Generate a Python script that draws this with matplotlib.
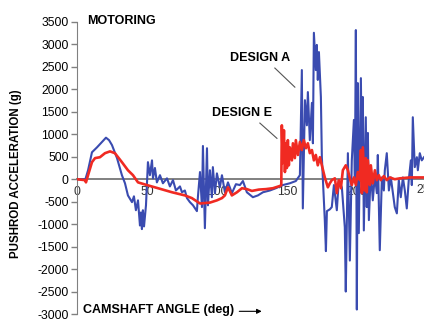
import matplotlib
matplotlib.use("Agg")
import matplotlib.pyplot as plt

plt.rcParams['font.family'] = ['Liberation Sans', 'DejaVu Sans']

# Design A (blue) - camshaft angle (deg) vs pushrod acceleration (g)
angle_a = [0, 6, 7.9, 10.7, 14.3, 17.9, 20.7, 22.9, 25.0, 28.6, 32.1, 34.3, 36.4, 39.3,
           40.7, 42.1, 43.6, 45.0, 45.7, 46.4, 47.1, 47.9, 49.3, 50.7, 52.1, 53.6, 54.3,
           55.7, 57.1, 59.3, 61.4, 64.3, 66.4, 68.6, 70.7, 73.6, 75.0, 77.1, 78.6, 80.7,
           82.9, 85.7, 86.4, 87.9, 89.3, 90.0, 91.4, 92.9, 93.6, 95.0, 96.4, 97.1, 98.6,
           100.0, 102.1, 103.6, 105.7, 107.9, 110.7, 113.6, 116.4, 118.6, 121.4, 125.7,
           129.3, 132.9, 137.9, 142.1, 147.1, 152.1, 156.4, 159.3, 160.7, 161.4, 162.9,
           164.3, 165.0, 166.4, 167.9, 168.6, 169.3, 170.7, 171.4, 172.1, 172.9, 173.6,
           174.3, 175.0, 175.7, 177.1, 177.9, 178.6, 180.7, 182.1, 183.6, 185.7, 187.1,
           189.3, 191.4, 192.1, 193.6, 195.0, 196.4, 197.9, 198.6, 199.3, 200.0, 200.7,
           201.4, 202.9, 203.6, 204.3, 205.0, 206.4, 207.1, 207.9, 208.6, 210.0, 211.4,
           212.9, 214.3, 215.0, 216.4, 217.9, 219.3, 220.0, 221.4, 222.9, 224.3, 225.7,
           227.1, 228.6, 230.0, 231.4, 232.9, 234.3, 235.7, 237.1, 238.6, 239.3, 240.0,
           241.4, 242.9, 243.6, 245.0, 246.4, 248.0]
accel_a = [0, 0, 200, 600, 710, 830, 925, 870, 760, 470, 90, -90, -360, -510,
           -380, -690, -470, -1030, -740, -1110, -690, -1050, -580, 380, 90, 420, 20,
           250, -70, 90, -90, 20, -160, -20, -250, -160, -290, -250, -420, -510,
           -580, -710, -400, 160, -620, 740, -1090, 690, -580, 200, -400, 270, -310,
           130, -180, 90, -290, -70, -310, -110, -130, -40, -290, -400,
           -360, -290, -250, -200, -130, -90, -40, 90, 2430, -650, 1760,
           1200, 1940, 870, 1700, 800, 3260, 2430, 2990, 2210, 2830, 2320,
           1830, 490, 40, -910, -1600, -710, -670, -620, -130, -690, -20,
           -180, -1070, -2500, 580, -1810, 420, 1320, -20, 3320, -2900, 2140,
           -1200, 2250, -20, 1830, -1140, 1380, -620, 1030, -910, 200, -470,
           90, -310, 540, -1580, 40, -250, 200, 580, -250, 40, -290,
           -620, -760, -20, -400, 40, -250, -650, -20, 420, -130, 1380,
           270, 490, 200, 580, 420, 490]

# Design E (red)
angle_e = [0, 5.7, 6.4, 7.9, 10.7, 12.9, 16.4, 20.0, 23.6, 27.1, 32.1, 36.4, 40.0, 43.6,
           50.0, 57.9, 67.9, 77.1, 82.1, 87.9, 95.0, 100.0, 103.6, 105.7, 107.9, 110.7,
           114.3, 117.9, 121.4, 125.0, 130.0, 135.0, 140.0, 145.0, 146.0, 146.4, 147.1,
           147.9, 148.6, 149.3, 150.0, 150.7, 151.4, 152.1, 153.6, 154.3, 155.7, 156.4,
           157.9, 159.3, 160.7, 162.1, 163.6, 165.0, 166.4, 167.9, 169.3, 170.7, 172.1,
           173.6, 175.0, 177.1, 179.3, 180.7, 182.1, 184.3, 185.7, 187.1, 188.6, 190.0,
           192.1, 193.6, 195.0, 196.4, 197.9, 199.3, 200.7, 202.1, 202.9, 203.6, 204.3,
           205.7, 206.4, 207.1, 207.9, 209.3, 210.0, 211.4, 212.9, 214.3, 215.7, 217.1,
           219.3, 221.4, 223.6, 227.1, 230.7, 237.9, 248.0]
accel_e = [0, -20, -70, 90, 380, 470, 490, 580, 620, 580, 380, 200, 90, -70,
           -130, -200, -290, -360, -420, -540, -520, -470, -420, -360, -180, -360,
           -290, -200, -220, -260, -230, -220, -200, -150, -130, 1200, 360,
           1090, 160, 800, 250, 870, 310, 710, 420, 800, 470, 870,
           540, 830, 650, 870, 690, 800, 580, 650, 420, 540, 310,
           490, 310, 40, -180, -90, -20, 20, -310, -20, -200, 200,
           310, 200, 20, -130, 40, -130, 160, -20, 650, -310, 710,
           -250, 470, -290, 420, -130, 310, -90, 200, -20, 90, -20,
           70, -20, 40, 0, 20, 40, 40]

y_ticks = [3500, 3000, 2500, 2000, 1500, 1000, 500, 0, -500, -1000, -1500,
           -2000, -2500, -3000]
x_ticks = [0, 50, 100, 150, 200]

fig = plt.figure(figsize=(4.24, 3.22), dpi=100)
ax = fig.add_axes([0.1816, 0.0248, 0.8184, 0.9069])

ax.plot(angle_a, accel_a, color='#3a4bb0', lw=1.5, zorder=3)
ax.plot(angle_e, accel_e, color='#f02a22', lw=1.9, zorder=4)

ax.set_xlim(0, 248)
ax.set_ylim(-3000, 3500)

# spines: y axis at left, x axis through zero
ax.spines['top'].set_visible(False)
ax.spines['right'].set_visible(False)
ax.spines['left'].set_color('#808080')
ax.spines['bottom'].set_position(('data', 0))
ax.spines['bottom'].set_color('#808080')
ax.spines['bottom'].set_linewidth(1.4)

ax.set_yticks(y_ticks)
ax.set_yticklabels([str(v) for v in y_ticks])
ax.tick_params(axis='y', direction='out', length=4, width=1, color='#808080',
               pad=2, labelsize=8.7)
ax.set_xticks(x_ticks)
ax.set_xticklabels([str(v) for v in x_ticks])
ax.tick_params(axis='x', length=0, pad=5, labelsize=8.7, labelcolor='#333333')
# the cut-off "250" label at the right edge
ax.text(250, -110, '250', ha='center', va='top', fontsize=8.7, color='#333333',
        clip_on=False)

ax.set_ylabel('PUSHROD ACCELERATION (g)', fontsize=8.3, fontweight='bold')
ax.yaxis.set_label_coords(-0.158, 0.48)

ax.text(7, 3520, 'MOTORING', fontsize=9, fontweight='bold', va='center', ha='left')
ax.text(4.3, -2920, 'CAMSHAFT ANGLE (deg)', fontsize=9, fontweight='bold',
        va='center', ha='left')
ax.annotate('', xy=(134, -2940), xytext=(114, -2940),
            arrowprops=dict(arrowstyle='-|>', color='black', lw=0.8,
                            mutation_scale=7))

ax.text(130.7, 2700, 'DESIGN A', fontsize=9, fontweight='bold', ha='center', va='center')
ax.plot([141.4, 155.7], [2475, 2050], color='#555555', lw=0.8, zorder=5)
ax.text(117.9, 1470, 'DESIGN E', fontsize=9, fontweight='bold', ha='center', va='center')
ax.plot([130.7, 142.9], [1250, 910], color='#555555', lw=0.8, zorder=5)

plt.savefig('out.png', dpi=100)
